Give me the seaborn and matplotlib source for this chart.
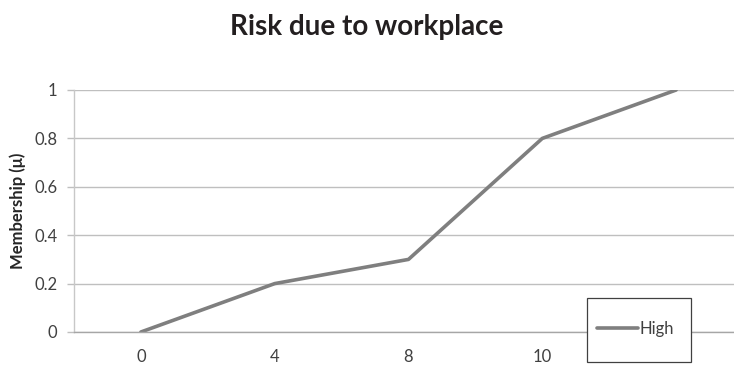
import matplotlib
matplotlib.use("Agg")
import matplotlib.pyplot as plt
import seaborn as sns
import pandas as pd
from matplotlib.lines import Line2D
from matplotlib.patches import Rectangle

# Membership function of the "High" workplace-risk set
categories = ["0", "4", "8", "10", "12"]
high_membership = [0.0, 0.2, 0.3, 0.8, 1.0]
y_ticks = [0, 0.2, 0.4, 0.6, 0.8, 1]
y_tick_labels = ["0", "0.2", "0.4", "0.6", "0.8", "1"]

df = pd.DataFrame({"risk": categories, "membership": high_membership, "set": "High"})

sns.set_theme(style="white")
plt.rcParams["font.family"] = ["Lato", "DejaVu Sans"]

W, H = 734, 365
fig = plt.figure(figsize=(W / 100, H / 100), dpi=100)
ax = fig.add_axes([74 / W, 1 - 332 / H, 669 / W, 242 / H])

sns.lineplot(data=df, x="risk", y="membership", hue="set", palette=["#7f7f7f"],
             linewidth=2.6, sort=False, ax=ax, legend=False)

ax.set_xlim(-0.5, len(categories) - 0.5)
ax.set_ylim(0, 1)
ax.set_yticks(y_ticks)
ax.set_yticklabels(y_tick_labels)
ax.yaxis.grid(True, color="#bfbfbf", linewidth=1.0)
ax.set_axisbelow(True)

for side in ["top", "right"]:
    ax.spines[side].set_visible(False)
ax.spines["left"].set_color("#c8c8c8")
ax.spines["left"].set_linewidth(1.0)
ax.spines["bottom"].set_color("#a6a6a6")
ax.spines["bottom"].set_linewidth(1.0)

ax.tick_params(axis="y", which="major", length=5, width=1, color="#bfbfbf",
               pad=7, labelsize=12, labelcolor="#404040", left=True)
ax.tick_params(axis="x", which="major", length=0, pad=12.5, labelsize=12,
               labelcolor="#404040", bottom=True)

ax.set_xlabel("")
ax.set_ylabel("Membership (μ)", fontsize=12, fontweight="bold", color="#262626",
              labelpad=6)

fig.text(0.5, 1 - 27 / H, "Risk due to workplace", ha="center", va="center",
         fontsize=20, fontweight="bold", color="#231f20")

# Legend box drawn over the lower-right corner of the plot
box = Rectangle((587 / W, 1 - 362 / H), 104 / W, 64 / H, transform=fig.transFigure,
                facecolor="white", edgecolor="#404040", linewidth=0.9, zorder=3)
fig.add_artist(box)

handle = Line2D([], [], color="#7f7f7f", linewidth=2.6)
leg = fig.legend([handle], ["High"], loc="center left",
                 bbox_to_anchor=(597 / W, 1 - 329 / H),
                 frameon=False, fontsize=12, handlelength=2.45,
                 handletextpad=0.12, borderpad=0, borderaxespad=0)
for t in leg.get_texts():
    t.set_color("#404040")
leg.set_zorder(5)

fig.savefig("out.png", dpi=100, facecolor="white")
